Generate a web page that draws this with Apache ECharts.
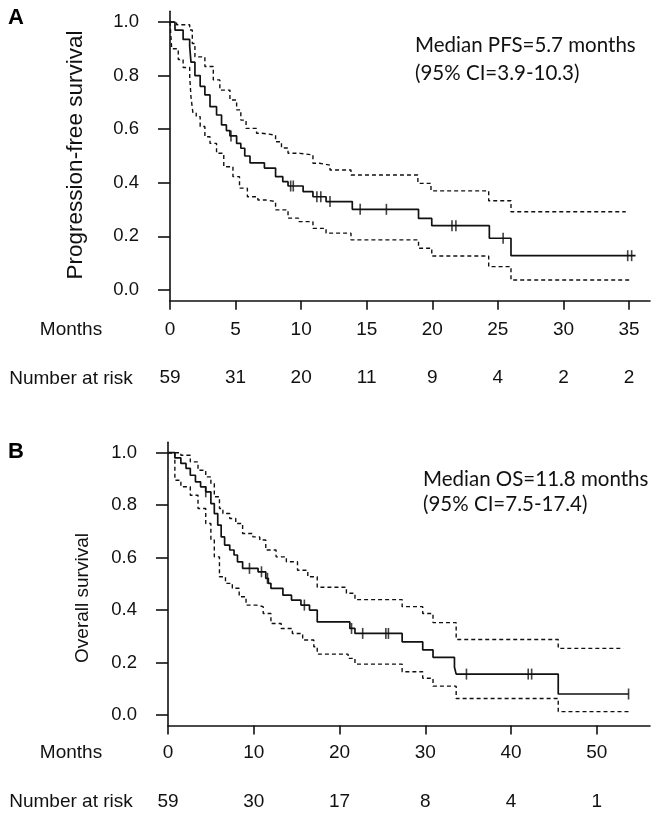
<!DOCTYPE html>
<html>
<head>
<meta charset="utf-8">
<script src="https://cdn.jsdelivr.net/npm/echarts@6/dist/echarts.min.js"></script>
<style>html,body{margin:0;padding:0;background:#fff}#c{width:657px;height:824px}</style>
</head>
<body>
<div id="c"></div>
<script>
// ---- Panel A: progression-free survival ----
const pfsMonths = [0,5,10,15,20,25,30,35];
const pfsAtRisk = [59,31,20,11,9,4,2,2];
const pfsKM = [[0,1],[0.38,0.97],[1.0,0.935],[1.5,0.91],[1.6,0.85],[1.9,0.8],[2.3,0.76],[2.66,0.728],[3.05,0.684],[3.55,0.653],[3.93,0.616],[4.3,0.595],[4.57,0.575],[5.08,0.547],[5.4,0.529],[5.7,0.5],[6.1,0.474],[7.2,0.455],[8.05,0.423],[8.6,0.404],[9.0,0.388],[10.15,0.367],[10.9,0.348],[11.9,0.33],[13.9,0.301],[18.95,0.267],[19.96,0.24],[24.35,0.193],[26.0,0.128],[35.5,0.128]];
const pfsUpper = [[0,1],[0.5,0.99],[1.5,0.97],[1.7,0.92],[1.9,0.87],[2.66,0.834],[3.3,0.784],[3.8,0.746],[4.57,0.709],[5.08,0.672],[5.4,0.634],[5.8,0.603],[6.6,0.585],[7.0,0.578],[8.05,0.553],[8.5,0.53],[9.0,0.51],[9.9,0.504],[10.9,0.473],[11.4,0.466],[12.2,0.448],[13.8,0.429],[18.9,0.398],[19.9,0.37],[24.3,0.333],[26.0,0.292],[34.75,0.292]];
const pfsLower = [[0,1],[0.13,0.9],[0.63,0.86],[1.0,0.83],[1.5,0.8],[1.6,0.72],[1.75,0.66],[2.0,0.647],[2.3,0.61],[2.66,0.572],[3.05,0.547],[3.55,0.51],[4.1,0.46],[4.8,0.423],[5.3,0.38],[5.9,0.348],[6.7,0.336],[7.3,0.33],[8.05,0.299],[9.0,0.268],[9.8,0.255],[10.9,0.23],[11.9,0.212],[13.8,0.187],[18.95,0.156],[19.96,0.127],[24.3,0.087],[26.0,0.037],[35.1,0.037]];
const pfsCensor = [4.65,9.2,9.4,11.2,11.5,12.2,14.5,16.5,21.5,21.8,25.4,34.9,35.2];

// ---- Panel B: overall survival ----
const osMonths = [0,10,20,30,40,50];
const osAtRisk = [59,30,17,8,4,1];
const osKM = [[0,1],[0.8,0.98],[1.5,0.959],[2.1,0.94],[2.6,0.914],[3.2,0.889],[3.8,0.87],[4.4,0.851],[5.0,0.806],[5.4,0.768],[5.8,0.724],[6.2,0.679],[6.6,0.648],[7.2,0.629],[7.7,0.61],[8.1,0.584],[8.7,0.559],[10.5,0.546],[11.4,0.521],[11.7,0.502],[12.0,0.483],[13.4,0.457],[14.4,0.438],[15.5,0.419],[16.5,0.4],[17.4,0.355],[21.2,0.33],[21.8,0.311],[27.3,0.279],[29.7,0.248],[30.9,0.22],[33.4,0.182],[33.6,0.156],[45.5,0.08],[53.7,0.08]];
const osUpper = [[0,1],[1.5,0.99],[2.6,0.965],[3.5,0.933],[4.4,0.908],[5.0,0.883],[5.4,0.832],[6.0,0.787],[6.4,0.768],[7.2,0.749],[7.9,0.73],[8.7,0.692],[9.9,0.679],[10.7,0.667],[11.4,0.629],[12.6,0.603],[13.8,0.584],[15.1,0.552],[16.3,0.527],[17.4,0.487],[20.8,0.464],[21.8,0.44],[27.3,0.413],[29.7,0.387],[30.9,0.352],[33.6,0.288],[45.5,0.254],[53.1,0.254]];
const osLower = [[0,1],[0.8,0.895],[1.5,0.87],[2.6,0.838],[3.5,0.787],[4.4,0.73],[5.0,0.667],[5.4,0.603],[6.0,0.527],[6.7,0.502],[7.5,0.483],[8.3,0.451],[9.1,0.419],[10.3,0.413],[11.1,0.387],[12.0,0.349],[13.2,0.33],[14.5,0.311],[15.7,0.286],[17.0,0.26],[17.4,0.232],[21.0,0.216],[21.8,0.194],[27.3,0.165],[29.7,0.14],[30.9,0.11],[33.6,0.063],[45.5,0.013],[54.0,0.013]];
const osCensor = [4.4,9.5,10.9,11.6,15.9,21.4,22.7,25.4,25.7,34.8,42.0,42.4,53.7];

const yTicks = [0,0.2,0.4,0.6,0.8,1.0];

function stepValue(curve, t){ let v = curve[0][1]; for (const p of curve){ if (p[0] <= t) v = p[1]; } return v; }
function censorPts(curve, times){ return times.map(t => [t, stepValue(curve, t)]); }

const FONT = '"Liberation Sans", Arial, sans-serif';
const NOTE_FONT = 'Lato, "Open Sans", sans-serif';
const INK = '#111';

function xAxes(gridIndex, max, months, atRisk, tickMargin, riskMargin){
  return [{
    type:'value', gridIndex, min:0, max, position:'bottom',
    axisLine:{show:true, onZero:false, lineStyle:{color:INK, width:1.6}},
    axisTick:{show:true, length:9, customValues:months, lineStyle:{color:INK, width:1.6}},
    axisLabel:{customValues:months, margin:tickMargin, fontFamily:FONT, fontSize:19, color:INK},
    splitLine:{show:false}
  },{
    type:'value', gridIndex, min:0, max, position:'bottom',
    axisLine:{show:false}, axisTick:{show:false},
    axisLabel:{customValues:months, margin:riskMargin, fontFamily:FONT, fontSize:19, color:INK,
      formatter: v => { const i = months.indexOf(v); return i >= 0 ? String(atRisk[i]) : ''; }},
    splitLine:{show:false}
  }];
}
function yAxis(gridIndex){
  return {
    type:'value', gridIndex, min:-0.04, max:1.04,
    axisLine:{show:true, onZero:false, lineStyle:{color:INK, width:1.6}},
    axisTick:{show:true, length:12, customValues:yTicks, lineStyle:{color:INK, width:1.6}},
    axisLabel:{customValues:yTicks, margin:31, fontFamily:FONT, fontSize:18.5, color:INK, formatter: v => v.toFixed(1)},
    splitLine:{show:false}
  };
}
function kmSeries(xi, yi, data, dashed){
  return {type:'line', xAxisIndex:xi, yAxisIndex:yi, data, step:'end', showSymbol:false, silent:true,
    lineStyle: dashed ? {color:INK, width:1.4, type:[4,3]} : {color:INK, width:1.7}};
}
function censorSeries(xi, yi, curve, times){
  return {type:'scatter', xAxisIndex:xi, yAxisIndex:yi, data:censorPts(curve, times), symbol:'rect', symbolSize:[1.6,11],
    itemStyle:{color:INK}, silent:true};
}
function note(x, y, text){
  return {type:'text', x, y, style:{text, fontFamily:NOTE_FONT, fontSize:20.5, fill:'#111', textAlign:'left', textVerticalAlign:'middle'}};
}
function label(x, y, text, size, extra){
  return Object.assign({type:'text', x, y, style:{text, fontFamily:FONT, fontSize:size, fill:INK, textAlign:'center', textVerticalAlign:'middle'}}, extra || {});
}

const option = {
  animation:false,
  backgroundColor:'#fff',
  grid:[{left:170, top:11.3, width:480, height:289.4},{left:168, top:442.2, width:482, height:283.3}],
  xAxis:[...xAxes(0, 36.6, pfsMonths, pfsAtRisk, 20, 68), ...xAxes(1, 56.2, osMonths, osAtRisk, 18, 67)],
  yAxis:[yAxis(0), yAxis(1)],
  series:[
    kmSeries(0,0,pfsUpper,true), kmSeries(0,0,pfsLower,true), kmSeries(0,0,pfsKM,false), censorSeries(0,0,pfsKM,pfsCensor),
    kmSeries(2,1,osUpper,true), kmSeries(2,1,osLower,true), kmSeries(2,1,osKM,false), censorSeries(2,1,osKM,osCensor)
  ],
  graphic:[
    {type:'text', x:16, y:18, style:{text:'A', fontFamily:FONT, fontWeight:'bold', fontSize:22, fill:'#000', textAlign:'center', textVerticalAlign:'middle'}},
    {type:'text', x:16, y:452, style:{text:'B', fontFamily:FONT, fontWeight:'bold', fontSize:22, fill:'#000', textAlign:'center', textVerticalAlign:'middle'}},
    label(76, 155, 'Progression-free survival', 22.5, {rotation:Math.PI/2}),
    label(83, 598, 'Overall survival', 19, {rotation:Math.PI/2}),
    label(71, 330, 'Months', 19),
    label(71, 379, 'Number at risk', 19),
    label(71, 753, 'Months', 19),
    label(71, 802, 'Number at risk', 19),
    note(415, 45, 'Median PFS=5.7 months'),
    note(415, 73, '(95% CI=3.9-10.3)'),
    note(423, 479, 'Median OS=11.8 months'),
    note(423, 504, '(95% CI=7.5-17.4)')
  ]
};
echarts.init(document.getElementById('c'), null, {renderer:'canvas'}).setOption(option);
</script>
</body>
</html>
